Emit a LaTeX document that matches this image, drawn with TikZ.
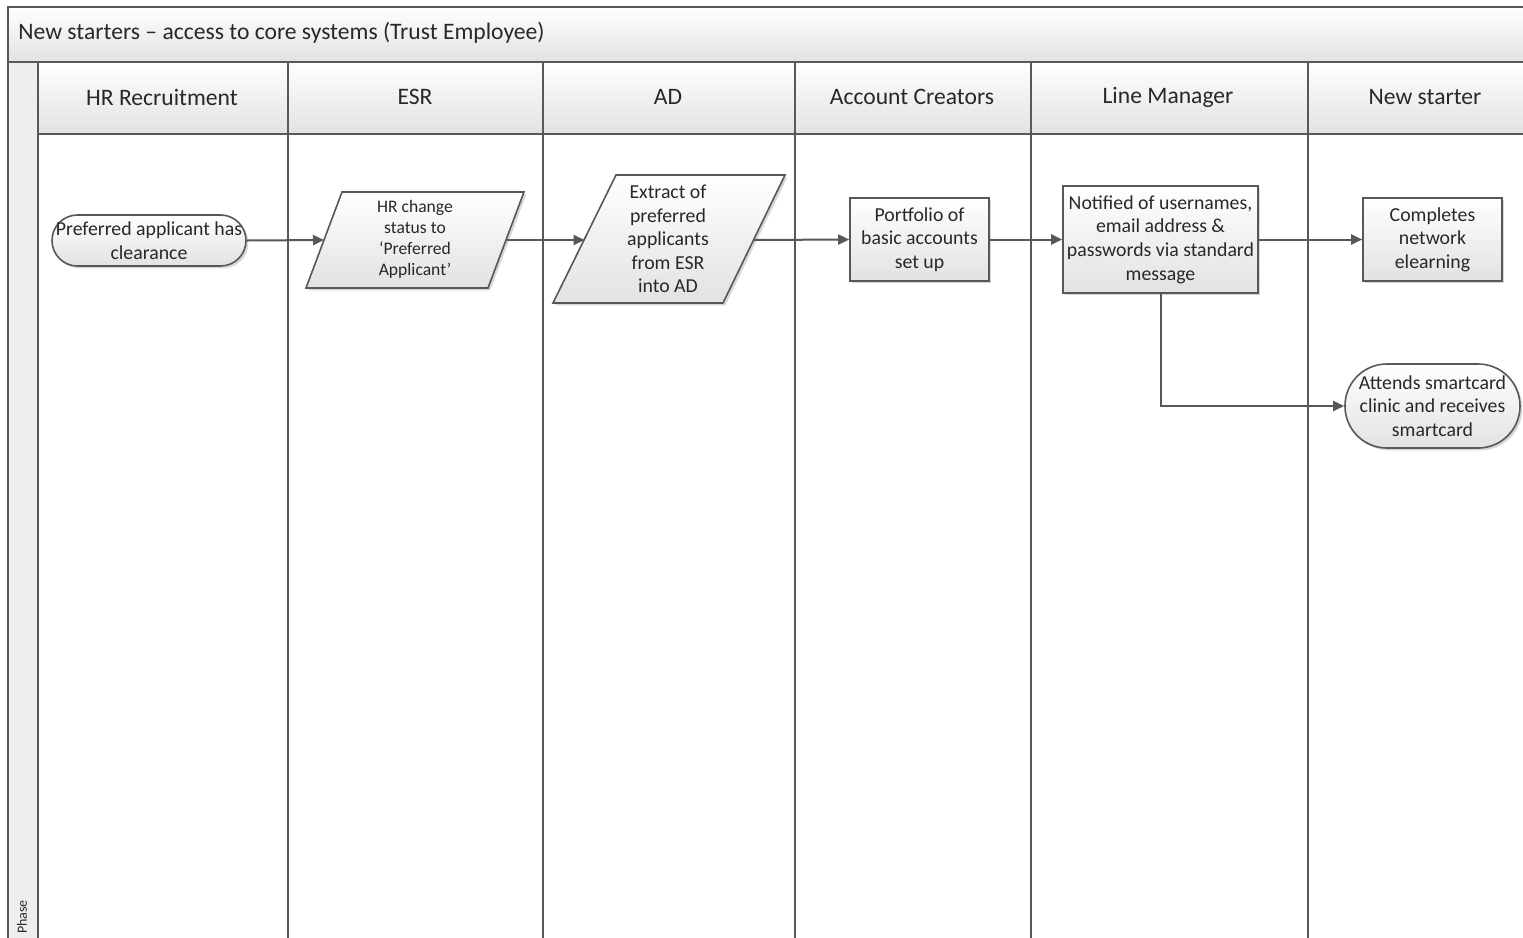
\documentclass[tikz,border=0pt]{standalone}
\usepackage{fontspec}
\setmainfont{Carlito}
\usetikzlibrary{arrows.meta,shapes.misc,shadows,calc}
\definecolor{linec}{RGB}{88,88,88}
\definecolor{txtc}{RGB}{40,40,40}
\definecolor{hdrbot}{RGB}{226,226,226}
\definecolor{phasefill}{RGB}{238,238,238}
\newcommand\mynodefont{\fontsize{9.9}{11.8}\selectfont}
\newcommand\mysmallfont{\fontsize{8.8}{10.5}\selectfont}
\newcommand\myhdrfont{\fontsize{11.8}{13}\selectfont}
\tikzset{
  frame/.style={draw=linec, line width=1pt},
  shapebox/.style={draw=linec, line width=0.8pt, top color=white, bottom color=hdrbot,
    drop shadow={shadow xshift=1.2pt, shadow yshift=-1.2pt, opacity=0.3}},
  procbox/.style={shapebox, rectangle, align=center, text=txtc, font=\mynodefont, inner sep=0pt},
  termbox/.style={shapebox, rectangle, align=center, text=txtc, font=\mynodefont, inner sep=0pt},
  txtnode/.style={align=center, text=txtc, inner sep=0pt},
  hdr/.style={text=txtc, font=\myhdrfont, inner sep=0pt},
  conn/.style={draw=linec, line width=1pt, -{Triangle[length=5.5pt,width=5pt]}}
}
\begin{document}
\begin{tikzpicture}[x=0.5pt,y=-0.5pt]
\useasboundingbox (0,0) rectangle (1523,938);
\begin{scope}
\clip (0,0) rectangle (1523,938);
\fill[white] (0,0) rectangle (1523,938);
\shade[top color=white,bottom color=hdrbot] (8,7) rectangle (1540,62);
\shade[top color=white,bottom color=hdrbot] (38,62) rectangle (1540,134);
\fill[phasefill] (8,62) rectangle (38,960);
\draw[frame] (8,960) -- (8,7) -- (1540,7);
\draw[frame] (8,62) -- (1540,62);
\draw[frame] (38,134) -- (1540,134);
\foreach \x in {38,288,543,795,1031,1308} \draw[frame] (\x,62) -- (\x,960);
\end{scope}

% title and headings
\node[hdr, anchor=west] (title) at (18,33) {New starters – access to core systems (Trust Employee)};
\node[hdr] (hHR) at (162,97) {HR Recruitment};
\node[hdr] (hESR) at (415,97) {ESR};
\node[hdr] (hAD) at (668,97) {AD};
\node[hdr] (hAC) at (912,97) {Account Creators};
\node[hdr] (hLM) at (1168,97) {Line Manager};
\node[hdr] (hNS) at (1425,97) {New starter};
\node[txtnode, rotate=90, font=\fontsize{7}{8}\selectfont] (phase) at (22,917) {Phase};

% nodes
\node[termbox, rounded corners=12.7pt, minimum width=97pt, minimum height=25.5pt] (n1) at (149,240.5) {Preferred applicant has\\clearance};

\shadedraw[shapebox] (342,192) -- (524,192) -- (488,288) -- (306,288) -- cycle;
\node[txtnode, font=\mysmallfont] (n2) at (415,239) {HR change\\status to\\‘Preferred\\Applicant’};
\coordinate (n2w) at (324,240);
\coordinate (n2e) at (506,240);

\shadedraw[shapebox] (616,175) -- (785,175) -- (723,303) -- (553,303) -- cycle;
\node[txtnode, font=\mynodefont] (n3) at (668,239) {Extract of\\preferred\\applicants\\from ESR\\into AD};
\coordinate (n3w) at (584.5,240);
\coordinate (n3e) at (754,240);

\node[procbox, minimum width=69.5pt, minimum height=41.5pt] (n4) at (919.5,239.5) {Portfolio of\\basic accounts\\set up};
\node[procbox, minimum width=97.5pt, minimum height=53.5pt] (n5) at (1160.5,239.5) {Notified of usernames,\\email address \&\\passwords via standard\\message};
\node[procbox, minimum width=69.5pt, minimum height=41.5pt] (n6) at (1432.5,239.5) {Completes\\network\\elearning};
\node[termbox, rounded corners=20.9pt, minimum width=87.5pt, minimum height=42pt] (n7) at (1432.5,406) {Attends smartcard\\clinic and receives\\smartcard};

% connectors
\draw[conn] (n1.east) -- (n2w);
\draw[conn] (n2e) -- (n3w);
\draw[conn] (n3e) -- (n4.west);
\draw[conn] (n4.east) -- (n5.west);
\draw[conn] (n5.east) -- (n6.west);
\draw[conn] (n5.south) |- (n7.west);
\end{tikzpicture}
\end{document}
